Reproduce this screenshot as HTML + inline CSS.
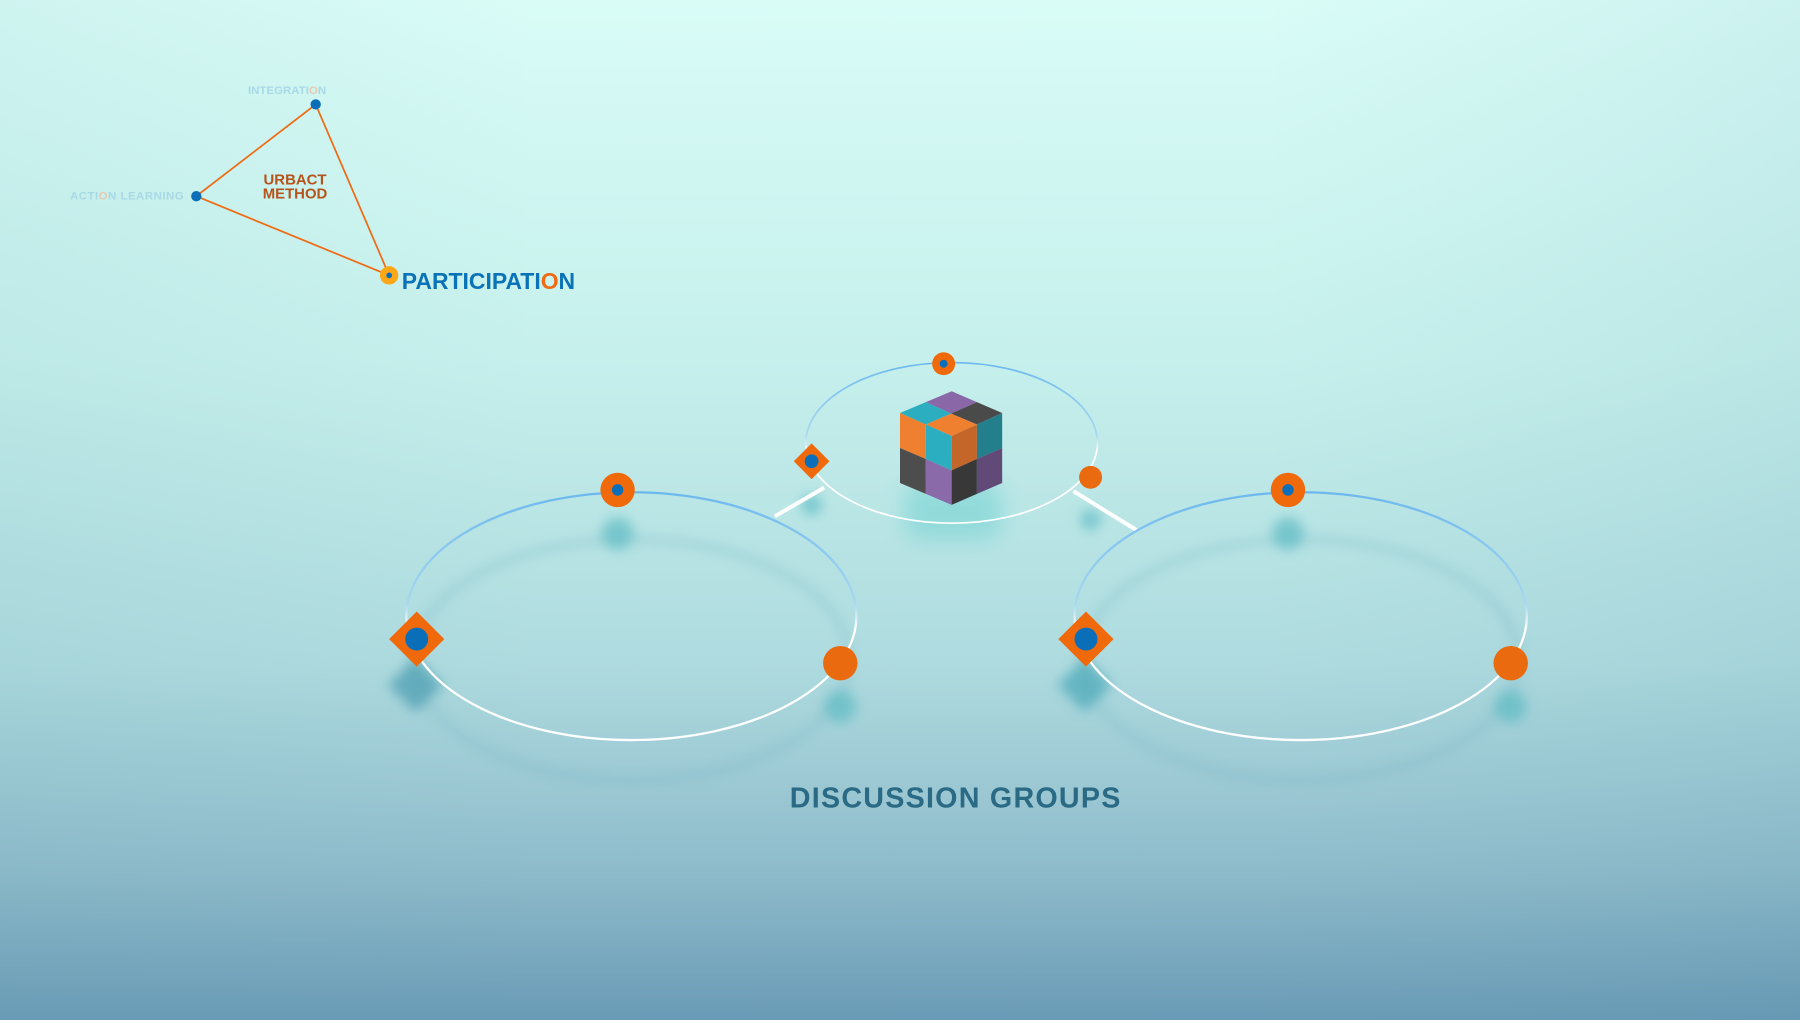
<!DOCTYPE html>
<html><head><meta charset="utf-8"><style>
html,body{margin:0;padding:0;width:1800px;height:1020px;overflow:hidden}
svg{display:block}
text{font-family:"Liberation Sans",sans-serif;font-weight:bold}
</style></head><body>
<svg width="1800" height="1020" viewBox="0 0 1568 889" preserveAspectRatio="none" xmlns="http://www.w3.org/2000/svg">
<defs>
<linearGradient id="bg" x1="0" y1="0" x2="0" y2="1">
<stop offset="0" stop-color="#d9fcf7"/>
<stop offset="0.35" stop-color="#c6f0ec"/>
<stop offset="0.65" stop-color="#aedbdf"/>
<stop offset="0.85" stop-color="#8fbccb"/>
<stop offset="1" stop-color="#6a9bb6"/>
</linearGradient>
<linearGradient id="side" x1="0" y1="0" x2="1" y2="0">
<stop offset="0" stop-color="#5a9aa8" stop-opacity="0.08"/>
<stop offset="0.3" stop-color="#5a9aa8" stop-opacity="0"/>
<stop offset="0.7" stop-color="#5a9aa8" stop-opacity="0"/>
<stop offset="1" stop-color="#3a7a98" stop-opacity="0.08"/>
</linearGradient>
<linearGradient id="ring" x1="0" y1="0" x2="0" y2="1">
<stop offset="0" stop-color="#6cb8ee"/>
<stop offset="0.45" stop-color="#a8d8f0"/>
<stop offset="0.55" stop-color="#ffffff"/>
<stop offset="1" stop-color="#ffffff"/>
</linearGradient>
<filter id="blur" x="-50%" y="-50%" width="200%" height="200%"><feGaussianBlur stdDeviation="5"/></filter>
<filter id="blur8" x="-50%" y="-50%" width="200%" height="200%"><feGaussianBlur stdDeviation="9"/></filter>
</defs>
<rect width="1568" height="889" fill="url(#bg)"/>
<rect width="1568" height="889" fill="url(#side)"/>

<!-- triangle -->
<polyline points="275,91 171,171 339,240 275,91" fill="none" stroke="#f06a12" stroke-width="1.5"/>
<circle cx="275" cy="91" r="4.5" fill="#0a6fb8"/>
<circle cx="171" cy="171" r="4.5" fill="#0a6fb8"/>
<circle cx="339" cy="240" r="8" fill="#fba717"/>
<circle cx="339" cy="240" r="2.5" fill="#0a6fb8"/>
<text x="216" y="82" font-size="10" fill="#a7d9e6">INTEGRATI<tspan fill="#e8c9b0">O</tspan>N</text>
<text x="61" y="174" font-size="10" fill="#a7d9e6" textLength="99">ACTI<tspan fill="#e8c9b0">O</tspan>N LEARNING</text>
<text x="257" y="161" font-size="13" fill="#b5531a" text-anchor="middle">URBACT</text>
<text x="257" y="173" font-size="13" fill="#b5531a" text-anchor="middle">METHOD</text>
<text x="350" y="252" font-size="20" fill="#0a73b7">PARTICIPATI<tspan fill="#f06a12">O</tspan>N</text>

<!-- ring shadows -->
<ellipse cx="550" cy="575" rx="190" ry="105" fill="none" stroke="#6aaebd" stroke-width="5" opacity="0.35" filter="url(#blur)"/>
<ellipse cx="1133" cy="575" rx="190" ry="105" fill="none" stroke="#6aaebd" stroke-width="5" opacity="0.35" filter="url(#blur)"/>
<!-- node shadows -->
<g fill="#5fbcc4" filter="url(#blur)" opacity="0.7">
<circle cx="538" cy="465" r="14"/><circle cx="732" cy="616" r="14"/><circle cx="1122" cy="465" r="14"/><circle cx="1316" cy="616" r="14"/>
<rect x="345" y="580" width="34" height="34" transform="rotate(45 362 597)" fill="#4a9cb0"/>
<rect x="928" y="580" width="34" height="34" transform="rotate(45 945 597)" fill="#4aa8b8"/>
<circle cx="707" cy="440" r="9"/><circle cx="950" cy="453" r="9"/>
</g>
<rect x="788" y="420" width="84" height="50" rx="14" fill="#6cd0d0" opacity="0.5" filter="url(#blur8)"/>

<!-- connectors -->
<line x1="675" y1="450" x2="718" y2="425" stroke="#ffffff" stroke-width="3.5"/>
<line x1="935" y1="428" x2="990" y2="462" stroke="#ffffff" stroke-width="3.5"/>

<!-- rings -->
<ellipse cx="829" cy="386" rx="127" ry="70" fill="none" stroke="url(#ring)" stroke-width="1.5"/>
<ellipse cx="550" cy="537" rx="196" ry="108" fill="none" stroke="url(#ring)" stroke-width="2"/>
<ellipse cx="1133" cy="537" rx="197" ry="108" fill="none" stroke="url(#ring)" stroke-width="2"/>

<!-- cube -->
<g stroke="none">
<polygon points="829,341 851,350.5 828.5,360.5 806.5,350.5" fill="#8a67a6"/>
<polygon points="806.5,350.5 828.5,360.5 806.5,370 784,360" fill="#2aaec0"/>
<polygon points="851,350.5 873,360 851,370 828.5,360.5" fill="#4a4a4a"/>
<polygon points="828.5,360.5 851,370 829,380 806.5,370" fill="#ef8030"/>
<polygon points="784,360 806.5,370 806.5,400 784,390.5" fill="#ef8030"/>
<polygon points="806.5,370 829,380 829,410 806.5,400" fill="#2aaec0"/>
<polygon points="784,390.5 806.5,400 806.5,430.5 784,421" fill="#4d4d4d"/>
<polygon points="806.5,400 829,410 829,440 806.5,430.5" fill="#8a6aa8"/>
<polygon points="829,380 851,370 851,400 829,410" fill="#c4652a"/>
<polygon points="851,370 873,360 873,390.5 851,400" fill="#237f8b"/>
<polygon points="829,410 851,400 851,430.5 829,440" fill="#383838"/>
<polygon points="851,400 873,390.5 873,421 851,430.5" fill="#624a78"/>
</g>

<!-- nodes small ring -->
<circle cx="822" cy="317" r="10" fill="#f06a0c"/><circle cx="822" cy="317" r="3.5" fill="#0a6fb8"/>
<rect x="696" y="391" width="22" height="22" transform="rotate(45 707 402)" fill="#f06a0c"/>
<circle cx="707" cy="402" r="6" fill="#0a6fb8"/>
<circle cx="950" cy="416" r="10" fill="#ea6a10"/>

<!-- left ring nodes -->
<circle cx="538" cy="427" r="15" fill="#f06a0c"/><circle cx="538" cy="427" r="5" fill="#0a6fb8"/>
<rect x="346" y="540" width="34" height="34" transform="rotate(45 363 557)" fill="#f06a0c"/>
<circle cx="363" cy="557" r="10" fill="#0a6fb8"/>
<circle cx="732" cy="578" r="15" fill="#ea6a10"/>

<!-- right ring nodes -->
<circle cx="1122" cy="427" r="15" fill="#f06a0c"/><circle cx="1122" cy="427" r="5" fill="#0a6fb8"/>
<rect x="929" y="540" width="34" height="34" transform="rotate(45 946 557)" fill="#f06a0c"/>
<circle cx="946" cy="557" r="10" fill="#0a6fb8"/>
<circle cx="1316" cy="578" r="15" fill="#ea6a10"/>

<text x="832" y="704" font-size="25" fill="#2a6a84" text-anchor="middle" textLength="288">DISCUSSION GROUPS</text>
</svg>
</body></html>
